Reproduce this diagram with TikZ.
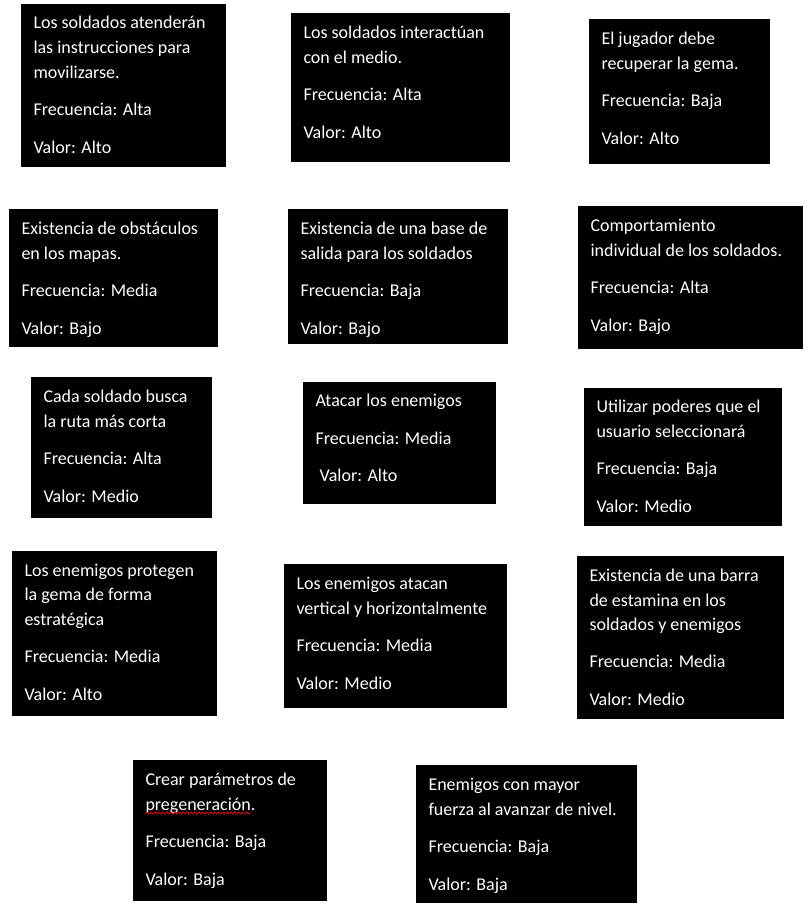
\documentclass[tikz,border=0pt]{standalone}
\usepackage{fontspec}
\setmainfont{Carlito}
\usetikzlibrary{calc,decorations.pathmorphing}
\tikzset{
  card/.style={draw=black,fill=black,anchor=north west,inner sep=0,outer sep=0},
  txt/.style={anchor=base west,inner sep=0,outer sep=0,text=white,font=\fontsize{18}{22}\selectfont},
  squiggle/.style={draw=red,line width=0.7pt,decorate,decoration={snake,amplitude=1.1pt,segment length=4pt}}
}
\newcommand\card[5]{\node[card,minimum width=#4,minimum height=#5] (#1) at (#2,#3) {};}
\newcommand\cl[4]{\node[txt] (#1-#2) at ($(#1.north west)+(12.5,#3)$) {#4};}
\begin{document}
\begin{tikzpicture}[x=1pt,y=-1pt]
\useasboundingbox (0,0) rectangle (811,905);
% row 1
\card{b1}{21}{4}{204pt}{162pt}
\cl{b1}{1}{24}{Los soldados atenderán}
\cl{b1}{2}{49}{las instrucciones para}
\cl{b1}{3}{74}{movilizarse.}
\cl{b1}{4}{111}{Frecuencia: Alta}
\cl{b1}{5}{149}{Valor: Alto}
\card{b2}{291}{13}{218pt}{148pt}
\cl{b2}{1}{25}{Los soldados interactúan}
\cl{b2}{2}{50}{con el medio.}
\cl{b2}{3}{87}{Frecuencia: Alta}
\cl{b2}{4}{125}{Valor: Alto}
\card{b3}{589}{19}{180pt}{144pt}
\cl{b3}{1}{25}{El jugador debe}
\cl{b3}{2}{50}{recuperar la gema.}
\cl{b3}{3}{87}{Frecuencia: Baja}
\cl{b3}{4}{125}{Valor: Alto}
% row 2
\card{b4}{9}{209}{208pt}{137pt}
\cl{b4}{1}{25}{Existencia de obstáculos}
\cl{b4}{2}{50}{en los mapas.}
\cl{b4}{3}{87}{Frecuencia: Media}
\cl{b4}{4}{125}{Valor: Bajo}
\card{b5}{288}{209}{219pt}{134pt}
\cl{b5}{1}{25}{Existencia de una base de}
\cl{b5}{2}{50}{salida para los soldados}
\cl{b5}{3}{87}{Frecuencia: Baja}
\cl{b5}{4}{125}{Valor: Bajo}
\card{b6}{578}{206}{224pt}{142pt}
\cl{b6}{1}{25}{Comportamiento}
\cl{b6}{2}{50}{individual de los soldados.}
\cl{b6}{3}{87}{Frecuencia: Alta}
\cl{b6}{4}{125}{Valor: Bajo}
% row 3
\card{b7}{31}{377}{180pt}{140pt}
\cl{b7}{1}{25}{Cada soldado busca}
\cl{b7}{2}{50}{la ruta más corta}
\cl{b7}{3}{87}{Frecuencia: Alta}
\cl{b7}{4}{125}{Valor: Medio}
\card{b8}{303}{382}{192pt}{121pt}
\cl{b8}{1}{24}{Atacar los enemigos}
\cl{b8}{2}{62}{Frecuencia: Media}
\cl{b8}{3}{99}{\ Valor: Alto}
\card{b9}{584}{388}{197pt}{137pt}
\cl{b9}{1}{24}{Utilizar poderes que el}
\cl{b9}{2}{49}{usuario seleccionará}
\cl{b9}{3}{86}{Frecuencia: Baja}
\cl{b9}{4}{124}{Valor: Medio}
% row 4
\card{b10}{12}{551}{204pt}{164pt}
\cl{b10}{1}{25}{Los enemigos protegen}
\cl{b10}{2}{49}{la gema de forma}
\cl{b10}{3}{74}{estratégica}
\cl{b10}{4}{111}{Frecuencia: Media}
\cl{b10}{5}{149}{Valor: Alto}
\card{b11}{284}{564}{222pt}{143pt}
\cl{b11}{1}{25}{Los enemigos atacan}
\cl{b11}{2}{50}{vertical y horizontalmente}
\cl{b11}{3}{87}{Frecuencia: Media}
\cl{b11}{4}{125}{Valor: Medio}
\card{b12}{577}{556}{206pt}{162pt}
\cl{b12}{1}{25}{Existencia de una barra}
\cl{b12}{2}{50}{de estamina en los}
\cl{b12}{3}{74}{soldados y enemigos}
\cl{b12}{4}{111}{Frecuencia: Media}
\cl{b12}{5}{149}{Valor: Medio}
% row 5
\card{b13}{133}{760}{193pt}{140pt}
\cl{b13}{1}{25}{Crear parámetros de}
\cl{b13}{2}{50}{pregeneración.}
\cl{b13}{3}{87}{Frecuencia: Baja}
\cl{b13}{4}{125}{Valor: Baja}
\draw[squiggle] ($(b13-2.base west)+(0,3)$) -- ($(b13-2.base east)+(-4,3)$);
\card{b14}{416}{765}{220pt}{137pt}
\cl{b14}{1}{25}{Enemigos con mayor}
\cl{b14}{2}{50}{fuerza al avanzar de nivel.}
\cl{b14}{3}{87}{Frecuencia: Baja}
\cl{b14}{4}{125}{Valor: Baja}
\end{tikzpicture}
\end{document}
